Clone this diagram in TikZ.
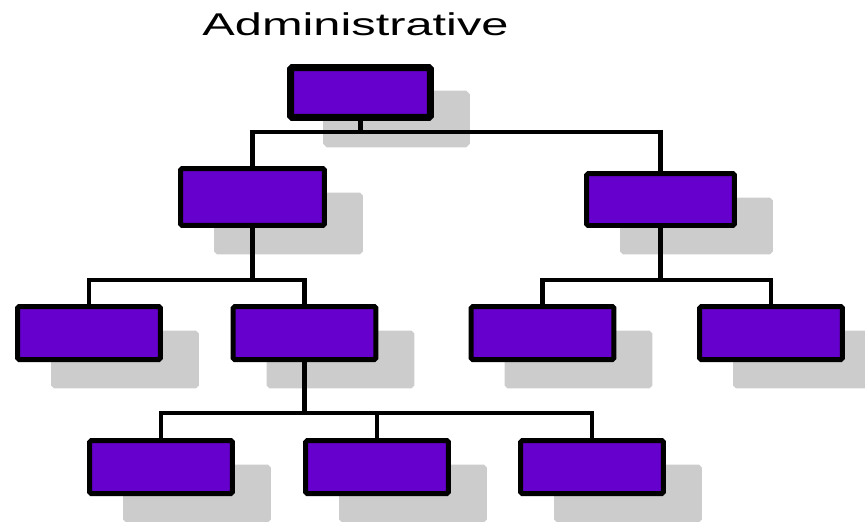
\documentclass[tikz,border=0pt]{standalone}
\usepackage{fontspec}
\setmainfont{Liberation Sans}
\usepackage{tikz}
\usetikzlibrary{shadows}
\usetikzlibrary{positioning}
\usetikzlibrary{calc}
\definecolor{boxviolet}{RGB}{102,0,204}
\definecolor{shadowgray}{RGB}{204,204,204}
\tikzstyle{unit}=[draw=black,fill=boxviolet,line width=0.1cm,rounded corners=1pt,minimum width=2.86cm,minimum height=1.06cm,inner sep=0pt,drop shadow={shadow xshift=0.72cm,shadow yshift=-0.53cm,opacity=1,fill=shadowgray,draw=shadowgray}]
\tikzstyle{link}=[line width=0.09cm]

\begin{document}
\begin{tikzpicture}[x=0.02cm,y=-0.02cm]
\clip (0,0) rectangle (865,521);

\node[anchor=base,inner sep=0pt,font=\fontsize{17.9}{20}\selectfont] (title) at (355.5,35) {\scalebox{1.55}[1]{Administrative}};

\node[unit,line width=0.14cm,minimum width=2.8cm,minimum height=1cm] (admin) at (360.5,92.5) {};
\node[unit,minimum width=2.88cm,minimum height=1.14cm] (left) at (252.5,197) {};
\node[unit,minimum width=2.96cm,minimum height=1.04cm] (right) at (660.5,199.5) {};

\foreach \pos/\name in {{(89,333)/la}, {(304.5,333)/lb}, {(542.5,333)/ra}, {(771,333)/rb}, {(161,467)/lba}, {(377,467)/lbb}, {(592,467)/lbc}}
    \node[unit] (\name) at \pos {};

%junctions
\coordinate (j1) at (360.5,132);
\coordinate (j2) at (252.5,280);
\coordinate (j3) at (660.5,280);
\coordinate (j4) at (304.5,413);

\draw[link] (admin) -- (j1);
\draw[link] (left.north) |- (j1) -| (right.north);
\draw[link] (left) -- (j2);
\draw[link] (la.north) |- (j2) -| (lb.north);
\draw[link] (right) -- (j3);
\draw[link] (ra.north) |- (j3) -| (rb.north);
\draw[link] (lb) -- (j4);
\draw[link] (lba.north) |- (j4) -| (lbc.north);
\draw[link] (lbb) -- (lbb |- j4);

\end{tikzpicture}
\end{document}
